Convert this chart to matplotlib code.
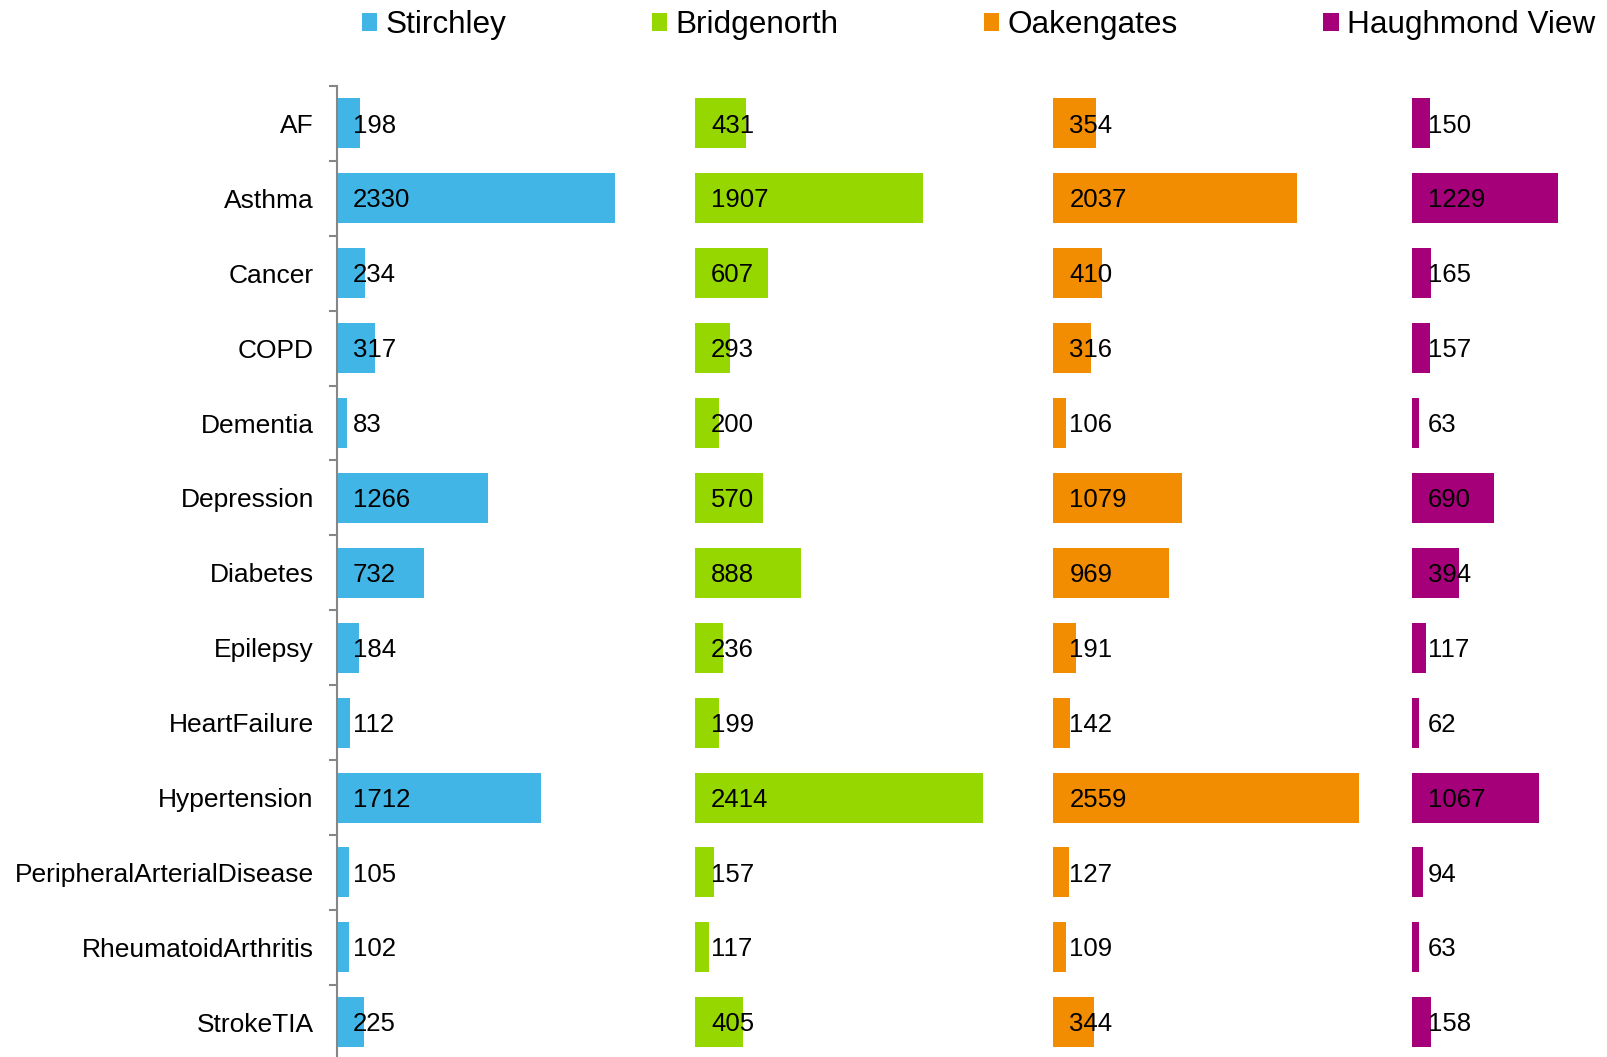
import numpy as np
import matplotlib.pyplot as plt
from matplotlib.patches import Patch

plt.rcParams['font.family'] = ['Liberation Sans', 'DejaVu Sans']

conditions = ["AF", "Asthma", "Cancer", "COPD", "Dementia", "Depression", "Diabetes",
              "Epilepsy", "HeartFailure", "Hypertension", "PeripheralArterialDisease",
              "RheumatoidArthritis", "StrokeTIA"]
sites = ["Stirchley", "Bridgenorth", "Oakengates", "Haughmond View"]
stirchley = [198, 2330, 234, 317, 83, 1266, 732, 184, 112, 1712, 105, 102, 225]
bridgenorth = [431, 1907, 607, 293, 200, 570, 888, 236, 199, 2414, 157, 117, 405]
oakengates = [354, 2037, 410, 316, 106, 1079, 969, 191, 142, 2559, 127, 109, 344]
haughmond = [150, 1229, 165, 157, 63, 690, 394, 117, 62, 1067, 94, 63, 158]
colors = ["#41B6E6", "#97D700", "#F28C00", "#A50079"]

W, H = 1608, 1057
fig = plt.figure(figsize=(W / 100, H / 100), dpi=100)

# axis geometry in pixels
left_px = 336.7
top_px = 86
row_px = 74.9
px_per_unit = 0.11944
panel = 3000  # each site gets its own 3000-wide slot on the shared axis

ax_h = row_px * len(conditions)
ax = fig.add_axes([left_px / W, (H - top_px - ax_h) / H, (W - left_px) / W, ax_h / H])

y = np.arange(len(conditions))
series = [stirchley, bridgenorth, oakengates, haughmond]
for i, (vals, c) in enumerate(zip(series, colors)):
    base = i * panel
    ax.barh(y, vals, left=base, height=0.667, color=c)
    for yy, v in zip(y, vals):
        ax.annotate(str(v), (base, yy), xytext=(11.5, -1.5), textcoords="offset points",
                    ha="left", va="center", fontsize=18.5, color="black")

ax.set_xlim(0, (W - left_px) / px_per_unit)
ax.set_ylim(len(conditions) - 0.5, -0.5)

for s in ["top", "right", "bottom"]:
    ax.spines[s].set_visible(False)
ax.spines["left"].set_color("#868686")
ax.spines["left"].set_linewidth(1.5)
ax.set_xticks([])
ax.set_yticks(y)
ax.set_yticklabels(conditions, fontsize=19)
ax.tick_params(axis="y", which="major", length=0, pad=16.5)
ax.set_yticks(np.arange(len(conditions) + 1) - 0.5, minor=True)
ax.tick_params(axis="y", which="minor", length=5.5, width=1.5, color="#868686")

handles = [Patch(facecolor=c, edgecolor="none", label=s) for s, c in zip(sites, colors)]
fig.legend(handles=handles, loc="center left", bbox_to_anchor=(362 / W, 1 - 25 / H),
           ncol=4, frameon=False, fontsize=22.7, handlelength=0.49, handleheight=0.49,
           handletextpad=0.27, columnspacing=4.6, borderpad=0, borderaxespad=0)

fig.savefig("out.png", dpi=100)
